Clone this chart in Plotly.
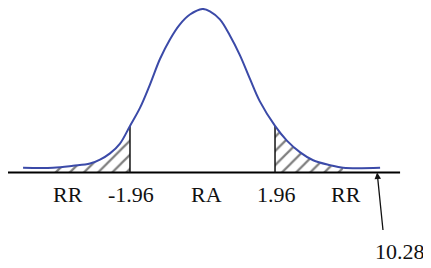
import plotly.graph_objects as go

# Curve (x in z units, y relative height, peak = 1)
curve_x = [-4.85, -4.04, -3.50, -3.04, -2.77, -2.50, -2.23, -1.96, -1.69, -1.42,
           -1.15, -0.88, -0.61, -0.34, 0.0, 0.20, 0.47, 0.74, 1.01, 1.28,
           1.55, 1.96, 2.28, 2.64, 2.99, 3.45, 3.80, 4.80]
curve_y = [0.029, 0.029, 0.041, 0.055, 0.079, 0.117, 0.177, 0.285, 0.395, 0.538,
           0.694, 0.814, 0.906, 0.966, 1.0, 0.986, 0.936, 0.838, 0.718, 0.574,
           0.435, 0.285, 0.195, 0.123, 0.075, 0.045, 0.029, 0.029]

critical_values = [-1.96, 1.96]
tick_labels = ["RR", "-1.96", "RA", "1.96", "RR"]
tick_label_x = [-3.64, -1.93, 0.12, 2.01, 3.88]
statistic_label = ["10.28"]

left_tail_start = -4.04
right_tail_end = 3.80

FONT = dict(family="Liberation Serif, Times New Roman, serif", size=22, color="#111111")
CURVE_COLOR = "#3b4aa8"

fig = go.Figure()

# hatched rejection regions
lx = [x for x in curve_x if left_tail_start <= x <= critical_values[0]]
ly = [y for x, y in zip(curve_x, curve_y) if left_tail_start <= x <= critical_values[0]]
rx = [x for x in curve_x if critical_values[1] <= x <= right_tail_end]
ry = [y for x, y in zip(curve_x, curve_y) if critical_values[1] <= x <= right_tail_end]
for tx, ty in ((lx, ly), (rx, ry)):
    fig.add_trace(go.Scatter(
        x=tx, y=ty, mode="lines", line=dict(width=0, shape="spline"),
        fill="tozeroy", fillcolor="rgba(0,0,0,0)",
        fillpattern=dict(shape="/", fgcolor="#000000", bgcolor="white",
                         size=10, solidity=0.22),
        hoverinfo="skip", showlegend=False))

# baseline axis
fig.add_trace(go.Scatter(x=[-5.39, 5.34], y=[0, 0], mode="lines",
                         line=dict(color="black", width=2), showlegend=False))

# vertical critical lines
for c in critical_values:
    h = curve_y[curve_x.index(c)]
    fig.add_trace(go.Scatter(x=[c, c], y=[0, h], mode="lines",
                             line=dict(color="#111111", width=1.5), showlegend=False))

# the curve
fig.add_trace(go.Scatter(x=curve_x, y=curve_y, mode="lines", cliponaxis=False,
                         line=dict(color=CURVE_COLOR, width=2, shape="spline"),
                         showlegend=False))

# labels below axis
for t, x in zip(tick_labels, tick_label_x):
    fig.add_annotation(x=x, y=-0.1315, text=t, showarrow=False, font=FONT,
                       xanchor="center", yanchor="middle")

# arrow to test statistic
fig.add_annotation(x=4.72, y=0, text="", showarrow=True, arrowhead=2,
                   arrowsize=1.0, arrowwidth=1.3, arrowcolor="#111111",
                   ax=6, ay=59, axref="pixel", ayref="pixel", standoff=0)
fig.add_annotation(x=5.33, y=-0.486, text=statistic_label[0], showarrow=False,
                   font=FONT, xanchor="center", yanchor="middle")

# page body has an 8px margin: figure covers window pixels 8..431 x 8..268
fig.update_layout(
    width=423, height=260, margin=dict(l=0, r=0, t=0, b=0, pad=0),
    paper_bgcolor="white", plot_bgcolor="white",
    xaxis=dict(range=[-5.257, 6.176], visible=False, fixedrange=True),
    yaxis=dict(range=[-0.584, 1.006], visible=False, fixedrange=True),
    showlegend=False,
)

fig.write_html("out.html")
